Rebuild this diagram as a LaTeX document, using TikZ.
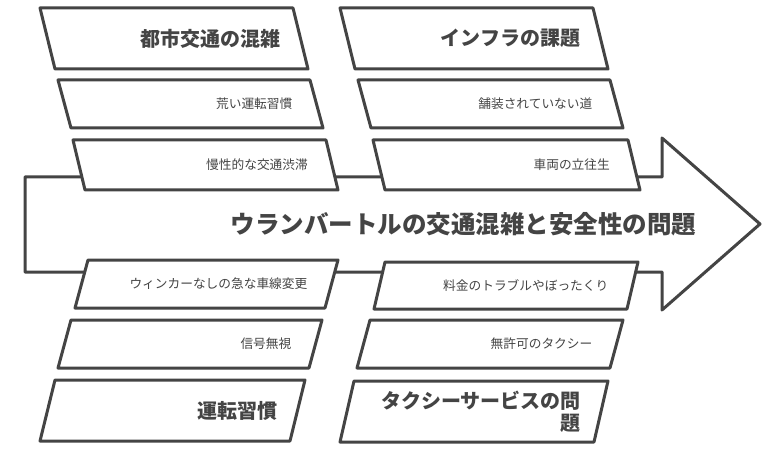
\documentclass[tikz,border=0pt]{standalone}
\usepackage{fontspec}
\setmainfont{Noto Sans CJK JP}
\begin{document}
\definecolor{ink}{HTML}{444444}
\tikzset{
  frame/.style={draw=ink, line width=3pt, fill=white, line join=round},
  title/.style={anchor=east, text=ink, font=\bfseries\fontsize{20}{22}\selectfont, align=right, inner sep=0pt},
  cause/.style={anchor=east, text=ink, font=\fontsize{12.7}{14}\selectfont, inner sep=0pt, xshift=-4pt}
}
% #1 name, #2 left x, #3 right x, #4 top y, #5 bottom y, #6 shift of bottom, #7 style, #8 text
\newcommand{\skewbox}[8]{%
  \draw[frame] (#2,#4) -- (#3,#4) -- (#3+#6,#5) -- (#2+#6,#5) -- cycle;
  \node[#7] (#1) at ({#3+0.5*#6-20},{0.5*#4+0.5*#5}) {#8};
}
\begin{tikzpicture}[x=1pt,y=-1pt]
  \useasboundingbox (0,0) rectangle (784,449);

  % Main arrow
  \draw[frame] (25,177) -- (662,177) -- (662,138) -- (760,224) -- (662,310)
    -- (662,272) -- (25,272) -- cycle;
  \node[text=ink, font=\bfseries\fontsize{24.5}{26}\selectfont, anchor=east] (effect) at (700,224)
    {ウランバートルの交通混雑と安全性の問題};

  % Upper left: traffic congestion
  \skewbox{congestion}{40}{293}{8}{69}{15}{title}{都市交通の混雑}
  \skewbox{rough}{58}{310}{80}{128}{13}{cause}{荒い運転習慣}
  \skewbox{jam}{73}{326}{140}{190}{12}{cause}{慢性的な交通渋滞}

  % Upper right: infrastructure
  \skewbox{infra}{340}{593}{8}{69}{15}{title}{インフラの課題}
  \skewbox{unpaved}{358}{610}{80}{128}{13}{cause}{舗装されていない道}
  \skewbox{stuck}{373}{628}{140}{190}{12}{cause}{車両の立往生}

  % Lower left: driving habits
  \skewbox{lane}{88}{338}{260}{308}{-13}{cause}{ウィンカーなしの急な車線変更}
  \skewbox{signal}{71}{322}{320}{368}{-13}{cause}{信号無視}
  \skewbox{habit}{55}{305}{380}{441}{-15}{title}{運転習慣}

  % Lower right: taxi service
  \skewbox{fare}{385}{638}{262}{309}{-11}{cause}{料金のトラブルやぼったくり}
  \skewbox{unlicensed}{370}{623}{320}{368}{-13}{cause}{無許可のタクシー}
  \skewbox{taxi}{354}{608}{381}{442}{-14}{title}{タクシーサービスの問\\題}
\end{tikzpicture}
\end{document}
